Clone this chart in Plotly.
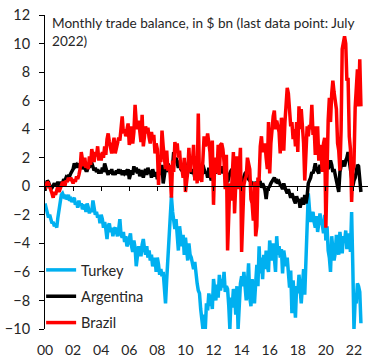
import pandas as pd
import plotly.graph_objects as go

# Monthly trade balance, $ bn, Jan 2000 - Jul 2022
turkey = [
    -1.2, -1.5, -1.9, -2.2, -2.0, -2.4, -2.6, -2.5, -2.8, -2.6, -2.9, -2.2,  # 2000
    -1.6, -1.0, -0.6, -0.5, -0.7, -0.6, -0.9, -0.8, -0.6, -1.0, -0.9, -1.1,  # 2001
    -0.9, -0.8, -1.3, -1.1, -1.5, -1.0, -1.4, -1.2, -1.6, -1.4, -1.3, -1.8,  # 2002
    -1.2, -1.5, -1.9, -1.6, -1.8, -1.0, -1.7, -2.0, -1.8, -2.2, -2.0, -2.6,  # 2003
    -2.0, -2.3, -2.9, -2.5, -3.0, -3.7, -2.8, -2.6, -3.2, -2.9, -3.5, -3.0,  # 2004
    -2.9, -3.3, -3.5, -3.0, -2.3, -3.4, -3.6, -3.2, -3.9, -3.5, -4.2, -4.0,  # 2005
    -3.6, -3.3, -4.2, -4.6, -3.8, -4.3, -5.6, -4.6, -4.2, -4.5, -4.9, -4.1,  # 2006
    -3.7, -4.4, -4.8, -4.2, -5.0, -4.5, -5.2, -4.8, -5.6, -5.3, -5.0, -6.0,  # 2007
    -5.0, -5.5, -6.2, -5.8, -6.3, -6.0, -7.4, -8.2, -6.5, -5.2, -4.3, -2.8,  # 2008
    -0.7, -1.8, -2.4, -3.0, -2.3, -3.6, -4.5, -2.8, -3.5, -4.2, -3.4, -4.8,  # 2009
    -3.6, -4.5, -5.2, -4.0, -4.8, -5.0, -5.5, -5.8, -5.3, -6.2, -6.8, -7.3,  # 2010
    -7.5, -8.6, -9.6, -10.0, -9.0, -10.0, -8.2, -8.7, -7.5, -8.4, -7.6, -8.6,  # 2011
    -6.5, -7.5, -8.0, -6.9, -7.8, -6.2, -7.3, -6.5, -7.1, -6.0, -7.4, -7.0,  # 2012
    -7.2, -8.4, -10.0, -7.8, -8.5, -7.2, -7.5, -9.0, -7.0, -10.0, -7.5, -6.8,  # 2013
    -6.3, -7.0, -6.0, -7.5, -8.0, -6.8, -5.4, -7.8, -8.4, -6.5, -7.2, -8.2,  # 2014
    -6.8, -5.5, -7.0, -4.2, -6.1, -5.0, -6.5, -4.8, -5.8, -4.5, -5.6, -6.0,  # 2015
    -3.8, -4.6, -5.2, -4.0, -5.5, -6.0, -3.5, -4.8, -4.2, -5.0, -4.4, -6.1,  # 2016
    -4.5, -5.2, -5.6, -5.0, -6.5, -7.1, -5.9, -8.9, -6.6, -7.8, -9.2, -7.0,  # 2017
    -7.5, -6.2, -6.9, -8.2, -7.0, -5.8, -7.6, -5.0, -2.0, -0.5, -1.6, -2.5,  # 2018
    -2.0, -1.8, -2.5, -2.9, -2.1, -3.2, -2.6, -1.9, -2.5, -2.7, -3.3, -2.0,  # 2019
    -3.8, -2.8, -4.5, -5.0, -6.0, -3.5, -4.4, -5.2, -4.7, -3.4, -4.2, -4.8,  # 2020
    -3.2, -4.1, -4.7, -3.5, -3.9, -3.1, -4.4, -3.8, -3.3, -4.6, -1.8, -5.5,  # 2021
    -10.0, -8.0, -8.2, -6.8, -7.0, -7.4, -9.6,                               # 2022
]

argentina = [
    -0.3, 0.1, 0.4, 0.3, 0.1, -0.2, -0.1, 0.1, 0.2, 0.0, 0.2, 0.3,  # 2000
    0.1, 0.0, 0.3, 0.2, 0.5, 0.4, 0.6, 0.5, 0.8, 0.7, 0.9, 1.0,  # 2001
    1.2, 1.6, 1.4, 1.5, 1.3, 1.6, 1.4, 1.5, 1.2, 1.4, 1.3, 1.1,  # 2002
    1.1, 1.4, 1.3, 1.9, 1.6, 1.4, 1.1, 1.3, 1.0, 1.2, 0.9, 1.1,  # 2003
    0.9, 1.3, 1.0, 1.6, 1.2, 1.0, 0.8, 1.1, 0.9, 1.2, 0.8, 1.0,  # 2004
    0.8, 1.1, 0.9, 1.2, 0.9, 1.0, 0.8, 1.1, 0.9, 1.0, 0.8, 1.2,  # 2005
    0.5, 0.9, 1.1, 0.8, 1.4, 1.0, 1.3, 0.9, 1.2, 0.7, 1.1, 1.0,  # 2006
    0.6, 1.0, 1.2, 0.8, 1.3, 0.9, 1.1, 0.6, 1.2, 0.9, 0.7, 1.0,  # 2007
    0.5, 1.0, 1.3, 0.8, 1.5, 0.2, 1.0, 1.3, 1.0, 1.6, 1.3, 1.1,  # 2008
    1.0, 1.4, 2.4, 1.7, 2.0, 1.6, 1.3, 1.8, 1.2, 1.1, 1.5, 0.9,  # 2009
    0.8, 1.2, 1.5, 1.8, 1.3, 0.9, 1.0, 1.2, 0.6, 0.8, 1.0, 0.5,  # 2010
    0.7, 1.1, 0.8, 1.5, 1.2, 0.9, 1.0, 0.6, 1.3, 0.8, 0.4, 0.7,  # 2011
    0.6, 1.0, 0.9, 1.6, 1.7, 1.2, 1.1, 1.4, 0.9, 1.3, 0.8, 0.6,  # 2012
    0.3, 0.7, 0.9, 1.1, 1.2, 0.9, 0.6, 0.4, 0.8, 0.3, 0.5, 0.2,  # 2013
    0.2, 0.5, 0.7, 0.9, 1.0, 0.6, 0.5, 0.4, 0.3, 0.1, 0.3, 0.0,  # 2014
    0.1, 0.3, 0.2, 0.4, 0.3, -0.1, 0.2, 0.0, -0.3, -0.9, -0.2, -0.1,  # 2015
    0.0, 0.2, 0.3, 0.5, 0.6, 0.4, 0.5, 0.2, 0.3, 0.1, 0.0, -0.2,  # 2016
    0.2, -0.1, -0.3, -0.5, -0.2, -0.6, -0.8, -0.5, -0.9, -1.0, -1.2, -0.7,  # 2017
    -1.0, -0.9, -1.5, -1.2, -0.8, -1.3, -0.6, -1.2, -0.7, 0.2, 0.4, 0.6,  # 2018
    1.0, 0.9, 1.2, 1.6, 1.2, 1.0, 0.9, 1.5, 1.3, 1.6, 1.9, 2.0,  # 2019
    1.4, 1.7, 1.2, 1.6, 1.8, 1.5, 1.0, 1.2, 0.8, 0.6, 0.1, -0.4,  # 2020
    1.0, 1.3, 1.8, 1.6, 1.4, 1.8, 2.0, 2.4, 1.8, 1.3, 0.5, 0.0,  # 2021
    0.4, 0.6, 1.0, 1.5, 1.4, 0.3, -0.4,                          # 2022
]

brazil = [
    -0.2, 0.1, 0.3, 0.2, 0.0, -0.3, -0.5, -0.8, -0.4, -0.6, -0.2, 0.0,  # 2000
    -0.4, -0.2, 0.1, 0.3, 0.2, 0.0, 0.4, 0.3, 0.6, 0.4, 0.6, 0.3,  # 2001
    0.2, 0.5, 0.3, 0.7, 0.5, 0.8, 1.2, 2.4, 1.8, 1.4, 2.0, 1.3,  # 2002
    1.6, 1.2, 2.1, 1.5, 2.6, 2.0, 1.7, 2.4, 2.1, 2.8, 1.8, 2.3,  # 2003
    1.8, 2.4, 2.0, 2.8, 2.2, 3.3, 3.7, 3.1, 2.7, 2.3, 2.9, 3.4,  # 2004
    2.3, 2.8, 3.0, 3.4, 3.2, 4.0, 4.9, 3.7, 4.0, 3.5, 4.2, 4.4,  # 2005
    2.9, 3.2, 4.2, 3.0, 3.8, 5.7, 4.5, 4.0, 4.6, 3.5, 3.1, 5.0,  # 2006
    2.8, 3.5, 4.2, 3.7, 4.1, 3.4, 3.0, 3.8, 3.3, 3.6, 2.3, 3.0,  # 2007
    2.6, 0.1, 1.8, 1.7, 3.9, 2.8, 2.2, 1.2, 2.5, 1.1, 1.5, 0.8,  # 2008
    -0.8, 1.8, 1.0, 3.1, 2.6, 3.0, 2.0, 2.5, 1.3, 1.3, 0.6, 2.0,  # 2009
    -0.4, 0.4, 1.0, 2.7, 1.0, 2.0, 1.7, 2.9, 0.4, 2.1, 0.2, 5.1,  # 2010
    0.4, 1.2, 0.3, 1.9, 3.5, 2.8, 3.1, 3.7, 3.0, 2.4, 0.6, 3.2,  # 2011
    -1.3, 1.7, 2.0, 0.9, 2.9, 0.8, 2.9, 3.0, 2.6, 1.7, -0.2, 2.2,  # 2012
    -4.5, -1.3, 0.2, -1.0, 0.8, 2.4, -1.9, 1.2, 2.1, -0.2, 1.7, 2.7,  # 2013
    -4.6, -2.1, 0.1, 0.5, 0.7, 2.0, 1.6, 1.2, -0.9, -1.2, -2.4, 0.3,  # 2014
    -3.5, -2.8, 0.5, 0.5, 2.8, 3.5, 2.4, 2.7, 3.0, 2.0, 1.2, 4.5,  # 2015
    0.9, 3.0, 4.4, 4.9, 5.3, 4.0, 4.6, 4.1, 3.8, 2.3, 4.8, 4.4,  # 2016
    2.5, 4.5, 6.2, 6.9, 6.5, 4.8, 4.2, 4.5, 3.3, 4.0, 2.8, 4.5,  # 2017
    2.4, 5.6, 4.0, 5.4, 4.2, 3.0, 0.4, 1.8, 4.2, 3.5, 4.3, 4.0,  # 2018
    5.7, 3.6, 4.2, 2.2, 3.5, 4.2, 1.8, 2.9, 2.2, 1.0, 3.0, 3.4,  # 2019
    -2.9, 1.5, 4.6, 6.2, 4.5, 6.5, 7.4, 6.6, 5.9, 5.4, 3.0, 2.5,  # 2020
    1.1, 4.0, 9.6, 10.3, 10.5, 10.0, 7.4, 7.6, 3.5, 2.6, -1.1, 1.0,  # 2021
    1.5, 5.5, 7.4, 8.2, 5.6, 8.9, 5.6,                           # 2022
]

tick_years = list(range(2000, 2023, 2))
tick_labels = [f"{y % 100:02d}" for y in tick_years]
y_ticks = list(range(-10, 13, 2))

dates = pd.date_range("2000-01-01", periods=len(turkey), freq="MS")
tick_dates = [pd.Timestamp(f"{y}-01-01") for y in tick_years]

FONT = "Lato"
TXT = "#262626"

fig = go.Figure()
series = [("Turkey", turkey, "#00B0F0"),
          ("Argentina", argentina, "#000000"),
          ("Brazil", brazil, "#FF0000")]
for name, vals, col in series:
    fig.add_trace(go.Scatter(x=dates, y=vals, name=name, mode="lines",
                             line=dict(color=col, width=3.5),
                             legendgroup=name))

# invisible trace to carry the zero-line axis
fig.add_trace(go.Scatter(x=[dates[0]], y=[0], xaxis="x2", mode="lines",
                         showlegend=False, hoverinfo="skip",
                         line=dict(color="rgba(0,0,0,0)")))

x_range = [pd.Timestamp("2000-01-01"), pd.Timestamp("2023-01-01")]

fig.update_layout(
    template="none",
    width=383, height=360,
    margin=dict(l=45, r=15, t=15, b=31, pad=0),
    paper_bgcolor="white", plot_bgcolor="white",
    font=dict(family=FONT, size=14, color=TXT),
    showlegend=True,
    legend=dict(x=-0.012, y=0.239, xanchor="left", yanchor="top",
                bgcolor="rgba(0,0,0,0)", borderwidth=0,
                font=dict(size=14.5, color=TXT),
                tracegroupgap=4.5, itemwidth=30),
    xaxis=dict(range=x_range, tickvals=tick_dates, ticktext=tick_labels,
               showline=False, ticks="", showgrid=False, zeroline=False,
               automargin=False,
               tickfont=dict(size=14, color=TXT), ticklabelstandoff=11),
    xaxis2=dict(range=x_range, overlaying="x", anchor="free",
                position=10 / 22, side="bottom", showline=True,
                linecolor="black", linewidth=1, ticks="outside", ticklen=4,
                tickcolor="black", tickvals=tick_dates, showticklabels=False,
                showgrid=False, zeroline=False, automargin=False),
    yaxis=dict(range=[-10, 12], tickvals=y_ticks, showline=True,
               linecolor="black", linewidth=1, ticks="outside", ticklen=5,
               tickcolor="black", showgrid=False, zeroline=False,
               automargin=False, ticklabelstandoff=6,
               tickfont=dict(size=14.5, color=TXT)),
    annotations=[dict(text="Monthly trade balance, in $ bn (last data point: July<br>2022)",
                      xref="paper", yref="paper", x=0.014, y=1.0, yshift=2,
                      xanchor="left", yanchor="top", align="left",
                      showarrow=False, font=dict(size=13.6, color=TXT))],
)

fig.write_html("out.html",
               config={"displayModeBar": False},
               post_script="document.body.style.margin='0';document.body.style.overflow='hidden';")
